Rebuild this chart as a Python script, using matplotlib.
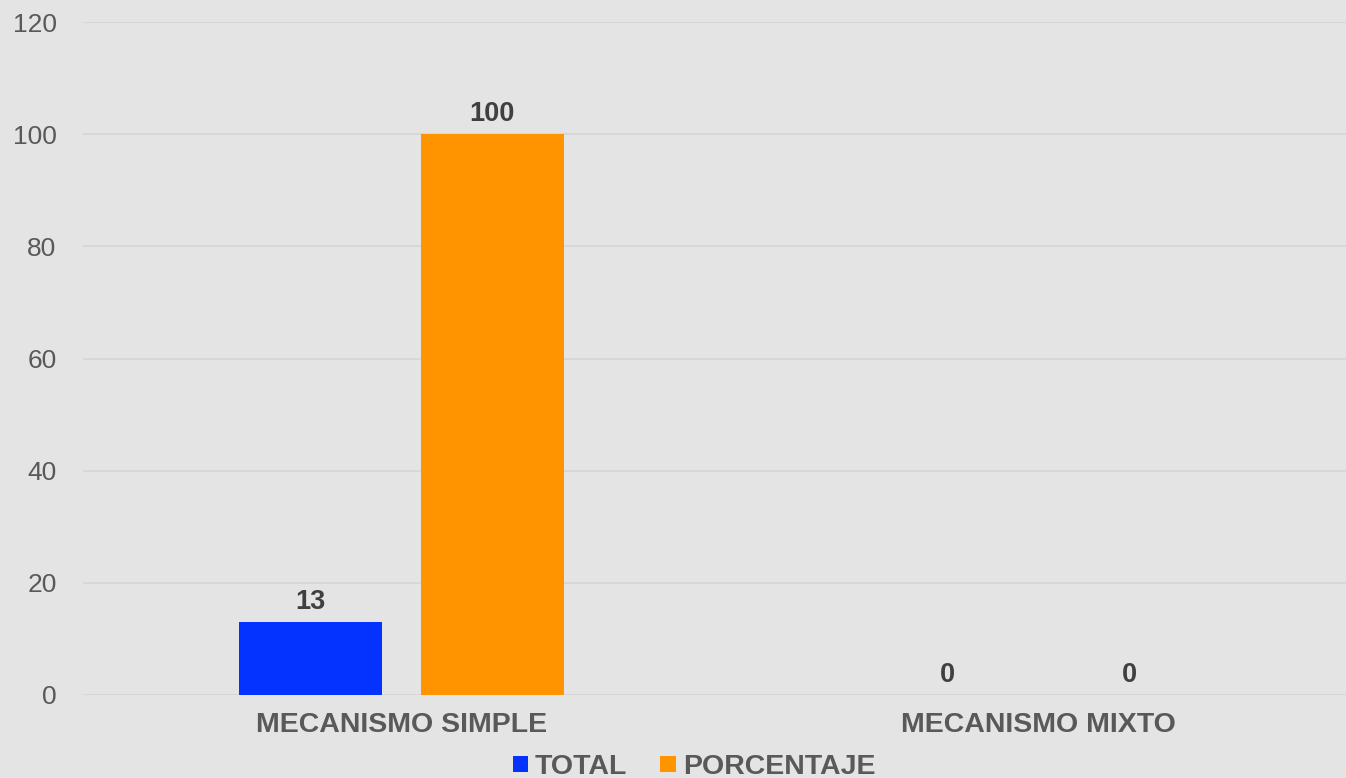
import matplotlib
matplotlib.use("Agg")
import matplotlib.pyplot as plt
from matplotlib.patches import Patch
import numpy as np

plt.rcParams['font.family'] = ['Liberation Sans', 'DejaVu Sans']

categories = ["MECANISMO SIMPLE", "MECANISMO MIXTO"]
series_names = ["TOTAL", "PORCENTAJE"]
total = [13, 0]
porcentaje = [100, 0]
yticks = [0, 20, 40, 60, 80, 100, 120]

colors = ["#0433ff", "#ff9300"]
bg = "#e4e4e4"

W, H = 1346, 778
fig = plt.figure(figsize=(W / 100, H / 100), dpi=100, facecolor=bg)
# axes in pixel terms: left 83, right 1357, bottom y=695, top y=22
left, right, top, bottom = 83, 1357, 22, 695
ax = fig.add_axes([left / W, 1 - bottom / H, (right - left) / W, (bottom - top) / H])
ax.set_facecolor(bg)

x = np.arange(len(categories))
width = 0.2245
offset = 0.1425
for vals, name, col, sign in [(total, series_names[0], colors[0], -1),
                              (porcentaje, series_names[1], colors[1], 1)]:
    bars = ax.bar(x + sign * offset, vals, width, color=col, label=name, zorder=3)
    for b, v in zip(bars, vals):
        ax.annotate(f"{v}", (b.get_x() + b.get_width() / 2, v),
                    xytext=(0, 13), textcoords="offset pixels",
                    ha="center", va="baseline", fontsize=19.5, fontweight="bold",
                    color="#404040")

ax.set_xlim(-0.5, 1.5)
ax.set_ylim(0, 120)
ax.set_yticks(yticks)
ax.set_yticklabels([str(t) for t in yticks], fontsize=19, color="#595959")
ax.set_xticks(x)
ax.set_xticklabels(categories, fontsize=20.5, fontweight="bold", color="#595959")
ax.tick_params(axis="both", length=0)
ax.tick_params(axis="y", pad=19)
ax.tick_params(axis="x", pad=12)
ax.grid(axis="y", color="#d6d6d6", linewidth=1.3, zorder=0)
for s in ax.spines.values():
    s.set_visible(False)

handles = [Patch(facecolor=c, label=n) for c, n in zip(colors, series_names)]
leg = fig.legend(handles=handles, loc="center", bbox_to_anchor=(694 / W, 1 - 767 / H),
                 ncol=2, frameon=False, handlelength=0.53, handleheight=0.53,
                 handletextpad=0.25, columnspacing=1.16, borderpad=0,
                 prop={"size": 20.5, "weight": "bold"})
for t in leg.get_texts():
    t.set_color("#595959")

fig.savefig("out.png", dpi=100, facecolor=bg)
